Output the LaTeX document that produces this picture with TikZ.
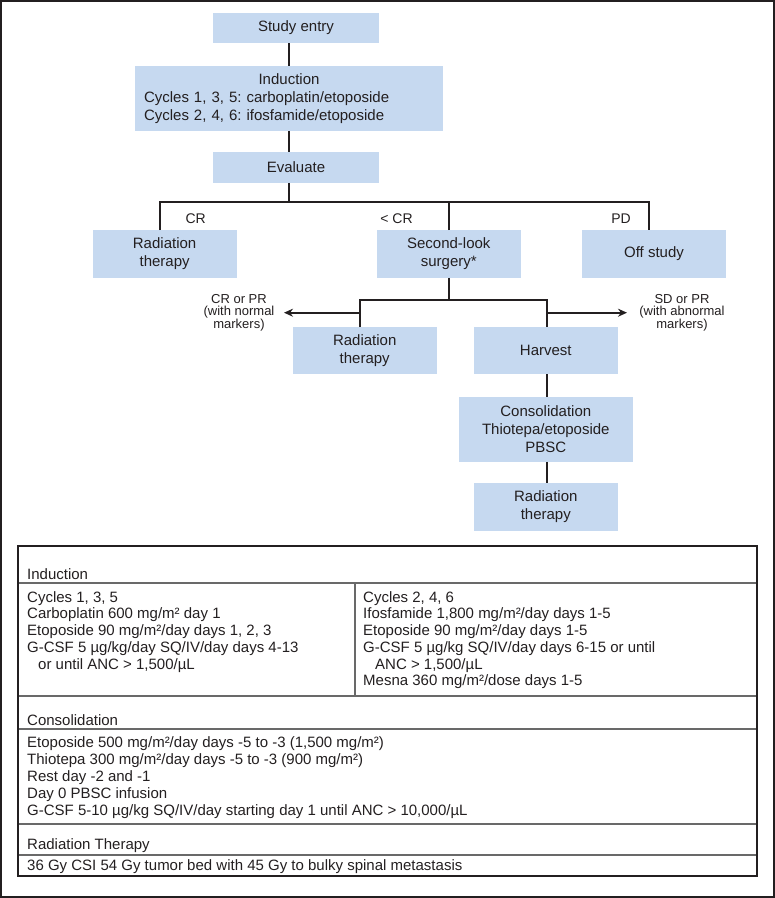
\documentclass[tikz,border=0pt]{standalone}
\usepackage{fontspec}
\setmainfont{Liberation Sans}
\usetikzlibrary{arrows.meta,positioning}
\definecolor{boxblue}{RGB}{198,217,240}
\definecolor{ink}{RGB}{35,31,32}
\definecolor{rulegray}{RGB}{105,105,105}
\frenchspacing

\begin{document}
\begin{tikzpicture}[x=1pt,y=-1pt,
    box/.style={fill=boxblue, inner sep=0pt, align=center, text=ink,
      font=\fontsize{15}{18}\selectfont},
    conn/.style={draw=ink, line width=2pt},
    arr/.style={conn, -{Stealth[length=9pt,width=8pt]}},
    lab/.style={inner sep=0pt, text=ink, font=\fontsize{14}{17}\selectfont},
    side/.style={inner sep=0pt, align=center, text=ink,
      font=\fontsize{13}{12.7}\selectfont},
    cell/.style={anchor=base west, inner sep=0pt, text=ink,
      font=\fontsize{15}{17}\selectfont},
    rule/.style={draw=rulegray, line width=1.8pt}]
\useasboundingbox (0,0) rectangle (775,898);
\draw[ink, line width=1.4pt] (0.9,0.9) rectangle (774.1,897.1);

% flow chart
\node[box, minimum width=166pt, minimum height=30.5pt] (entry) at (296,28) {Study entry};
\node[box, minimum width=308pt, minimum height=65pt, text width=290pt, align=left] (induct) at (289,98.2)
  {\makebox[290pt]{Induction}\\Cycles 1, 3, 5: carboplatin/etoposide\\Cycles 2, 4, 6: ifosfamide/etoposide};
\node[box, minimum width=166pt, minimum height=30.5pt] (eval) at (296,167.5) {Evaluate};

\node[box, minimum width=144pt, minimum height=47.5pt] (rad1) at (164.6,254) {Radiation\\therapy};
\node[box, minimum width=143.6pt, minimum height=47.5pt] (second) at (448.8,254) {Second-look\\surgery*};
\node[box, minimum width=144pt, minimum height=47.5pt] (off) at (654,254) {Off study};

\node[lab] (lcr) at (195.7,219) {CR};
\node[lab] (llt) at (396.5,219) {< CR};
\node[lab] (lpd) at (621,219) {PD};

\node[box, minimum width=144pt, minimum height=46.7pt] (rad2) at (364.7,350.7) {Radiation\\therapy};
\node[box, minimum width=143.7pt, minimum height=46.7pt] (harvest) at (545.8,350.7) {Harvest};
\node[box, minimum width=173.4pt, minimum height=64.4pt, on grid, below=78.8pt of harvest] (consol)
  {Consolidation\\Thiotepa/etoposide\\PBSC};
\node[box, minimum width=143.7pt, minimum height=47.4pt, on grid, below=77.5pt of consol] (rad3)
  {Radiation\\therapy};

\node[side] (lnorm) at (239,312.7) {CR or PR\\(with normal\\markers)};
\node[side] (labn) at (682,312.7) {SD or PR\\(with abnormal\\markers)};

\coordinate (crTop) at (160,202);
\coordinate (pdTop) at (649,202);
\coordinate (lCorner) at (360,300);
\coordinate (rCorner) at (546.7,300);
\coordinate (lTip) at (284,312.7);
\coordinate (rTip) at (627,312.7);

\draw[conn] (induct.north |- entry.south) -- (induct.north);
\draw[conn] (induct.south) -- (induct.south |- eval.north);
\draw[conn] (induct.south |- eval.south) -- (induct.south |- crTop);
\draw[conn] (rad1.north -| crTop) -- (crTop) -- (pdTop) -- (off.north -| pdTop);
\draw[conn] (second.north) -- (second.north |- crTop);
\draw[conn] (second.south) -- (second.south |- lCorner);
\draw[conn] (rad2.north -| lCorner) -- (lCorner) -- (rCorner) -- (harvest.north -| rCorner);
\draw[arr] (lTip -| lCorner) -- (lTip);
\draw[arr] (rTip -| rCorner) -- (rTip);
\draw[conn] (harvest.south -| rCorner) -- (consol.north -| rCorner);
\draw[conn] (consol.south -| rCorner) -- (rad3.north -| rCorner);

% regimen table
\draw[rule] (18,583.3) -- (757,583.3);
\draw[rule] (355,583.3) -- (355,695.7);
\draw[rule] (18,695.7) -- (757,695.7);
\draw[rule] (18,729.3) -- (757,729.3);
\draw[rule] (18,824) -- (757,824);
\draw[rule] (18,855) -- (757,855);
\draw[ink, line width=2pt] (18,546) rectangle (757,875.7);

\node[cell] (hInd) at (27,579.3) {Induction};
\foreach \ln [count=\i] in {{Cycles 1, 3, 5},
    {Carboplatin 600 mg/m² day 1},
    {Etoposide 90 mg/m²/day days 1, 2, 3},
    {G-CSF 5 µg/kg/day SQ/IV/day days 4-13},
    {\hspace{11pt}or until ANC > 1,500/µL}}
  \node[cell] (indA\i) at ({27},{602+16.75*(\i-1)}) {\ln};
\foreach \ln [count=\i] in {{Cycles 2, 4, 6},
    {Ifosfamide 1,800 mg/m²/day days 1-5},
    {Etoposide 90 mg/m²/day days 1-5},
    {G-CSF 5 µg/kg SQ/IV/day days 6-15 or until},
    {\hspace{12pt}ANC > 1,500/µL},
    {Mesna 360 mg/m²/dose days 1-5}}
  \node[cell] (indB\i) at ({363},{602+16.75*(\i-1)}) {\ln};

\node[cell] (hCons) at (27,725) {Consolidation};
\foreach \ln [count=\i] in {{Etoposide 500 mg/m²/day days -5 to -3 (1,500 mg/m²)},
    {Thiotepa 300 mg/m²/day days -5 to -3 (900 mg/m²)},
    {Rest day -2 and -1},
    {Day 0 PBSC infusion},
    {G-CSF 5-10 µg/kg SQ/IV/day starting day 1 until ANC > 10,000/µL}}
  \node[cell] (cons\i) at ({27},{747.5+17.1*(\i-1)}) {\ln};

\node[cell] (hRad) at (27,849.7) {Radiation Therapy};
\node[cell] (radDose) at (27,870.7) {36 Gy CSI 54 Gy tumor bed with 45 Gy to bulky spinal metastasis};
\end{tikzpicture}
\end{document}
